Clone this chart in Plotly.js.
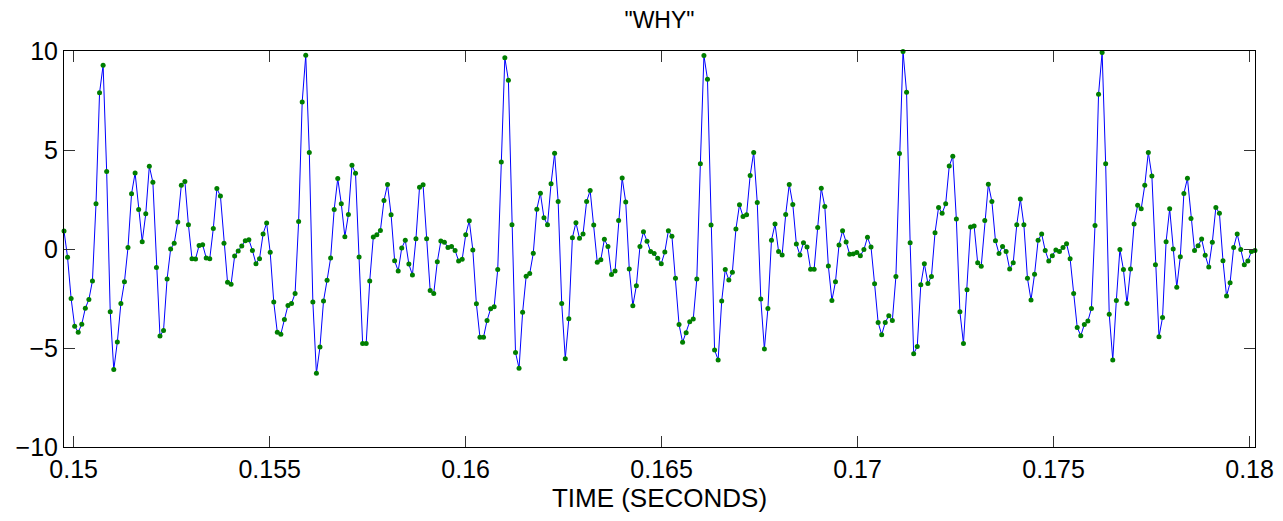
<!DOCTYPE html>
<html>
<head>
<meta charset="utf-8">
<script src="https://cdn.plot.ly/plotly-3.0.1.min.js"></script>
<style>html,body{margin:0;padding:0;background:#fff;}#chart{width:1283px;height:521px;}</style>
</head>
<body>
<div id="chart"></div>
<script>
// Sampled speech waveform of the word "WHY" (11025 Hz)
var startTime = 0.149753;
var sampleRate = 11025;
var signal = [
  0.91, -0.42, -2.50, -3.90, -4.20, -3.80, -2.99, -2.55, -1.61, 2.28, 7.89, 9.28, 3.91, -3.17, -6.09, -4.70, -2.75, -1.66, 0.07, 2.79, 3.84, 2.00, 0.37, 1.78, 4.18, 3.37, -0.94, -4.40, -4.11,
  -1.51, 0.00, 0.29, 1.36, 3.22, 3.41, 1.22, -0.49, -0.50, 0.18, 0.22, -0.45, -0.49, 1.04, 3.05, 2.68, 0.29, -1.68, -1.78, -0.35, -0.10, 0.15, 0.42, 0.47, -0.07, -0.74, -0.49, 0.76,
  1.31, -0.17, -2.68, -4.21, -4.30, -3.56, -2.85, -2.75, -2.25, 1.39, 7.43, 9.78, 4.88, -2.68, -6.28, -4.95, -2.62, -1.58, -0.45, 2.00, 3.56, 2.28, 0.62, 1.74, 4.23, 3.83, -0.40, -4.77,
  -4.77, -1.61, 0.60, 0.72, 0.94, 2.45, 3.26, 1.73, -0.59, -1.11, 0.05, 0.44, -0.76, -1.31, 0.52, 3.12, 3.24, 0.52, -2.10, -2.25, -0.65, 0.40, 0.34, 0.08, 0.13, -0.07, -0.60, -0.52,
  0.72, 1.43, -0.05, -2.77, -4.46, -4.46, -3.61, -3.02, -2.92, -1.04, 4.40, 9.66, 8.52, 1.22, -5.23, -6.02, -3.20, -1.38, -1.24, -0.22, 2.01, 2.82, 1.58, 1.22, 3.29, 4.83, 2.40, -2.75, -5.54,
  -3.52, 0.57, 1.33, 0.54, 0.76, 2.40, 2.95, 1.21, -0.67, -0.54, 0.49, 0.13, -1.29, -1.11, 1.44, 3.59, 2.37, -1.01, -2.87, -1.85, 0.12, 0.87, 0.39, -0.13, -0.23, -0.47, -0.74, -0.15,
  0.92, 0.64, -1.48, -3.81, -4.71, -4.23, -3.67, -3.54, -1.51, 4.30, 9.77, 8.57, 1.21, -5.10, -5.60, -2.62, -1.04, -1.56, -1.17, 1.01, 2.23, 1.64, 1.73, 3.71, 4.88, 2.35, -2.53, -5.05,
  -3.00, 0.44, 1.26, -0.13, -0.30, 1.74, 3.26, 2.25, 0.25, -0.30, 0.32, 0.10, -1.02, -1.02, 1.09, 3.07, 2.15, -0.86, -2.60, -1.66, 0.20, 0.92, 0.35, -0.27, -0.25, -0.18, -0.34, -0.03,
  0.59, 0.10, -1.76, -3.71, -4.33, -3.71, -3.37, -3.61, -1.39, 4.82, 9.98, 7.92, 0.32, -5.29, -4.93, -1.81, -0.74, -1.74, -1.39, 0.82, 2.10, 1.80, 2.28, 4.19, 4.68, 1.51, -3.17, -4.77,
  -2.06, 1.11, 1.16, -0.70, -0.87, 1.44, 3.27, 2.40, 0.42, -0.23, 0.13, -0.13, -1.01, -0.70, 1.22, 2.53, 1.22, -1.48, -2.57, -1.28, 0.44, 0.76, -0.08, -0.60, -0.34, -0.05, -0.12, 0.07,
  0.27, -0.49, -2.25, -3.96, -4.38, -3.81, -3.64, -3.00, 1.19, 7.82, 9.93, 4.30, -3.29, -5.60, -2.60, -0.02, -1.04, -2.75, -1.01, 1.26, 2.21, 2.03, 3.22, 4.88, 3.69, -0.79, -4.43, -3.46,
  0.37, 2.03, 0.00, -1.93, -0.39, 2.80, 3.57, 1.54, -0.07, 0.17, 0.50, -0.32, -0.91, 0.34, 2.10, 1.81, -0.59, -2.38, -1.71, 0.08, 0.76, -0.02, -0.79, -0.60, -0.12, -0.08
];
var xTickVals = [0.15, 0.155, 0.16, 0.165, 0.17, 0.175, 0.18];
var xTickText = ['0.15', '0.155', '0.16', '0.165', '0.17', '0.175', '0.18'];
var yTickVals = [-10, -5, 0, 5, 10];
var yTickText = ['\u221210', '\u22125', '0', '5', '10'];
var xRange = [0.149753, 0.180139];
var yRange = [-10, 10];

var FONT = 'Liberation Sans, Arial, Helvetica, sans-serif';
var FS = 25;

var trace = {
  type: 'scatter',
  mode: 'lines+markers',
  y: signal,
  x0: startTime,
  dx: 1 / sampleRate,
  line: {color: '#0000ff', width: 1},
  marker: {color: '#007f00', size: 5, line: {width: 0}},
  cliponaxis: false,
  hoverinfo: 'x+y'
};

var axisCommon = {
  showgrid: false,
  zeroline: false,
  showline: true,
  linecolor: '#000',
  linewidth: 1,
  mirror: 'ticks',
  ticks: 'inside',
  ticklen: 11,
  tickwidth: 1,
  tickcolor: '#333',
  tickfont: {family: FONT, size: FS, color: '#000'},
  tickmode: 'array'
};

var layout = {
  width: 1283,
  height: 521,
  margin: {l: 64, r: 28, t: 51, b: 74},
  paper_bgcolor: '#fff',
  plot_bgcolor: '#fff',
  showlegend: false,
  title: {text: '"WHY"', font: {family: FONT, size: 23, color: '#000'}, xref: 'paper', x: 0.5, xanchor: 'center', yref: 'container', y: 0.962, yanchor: 'middle'},
  xaxis: Object.assign({}, axisCommon, {
    range: xRange,
    tickvals: xTickVals,
    ticktext: xTickText,
    title: {text: 'TIME (SECONDS)', font: {family: FONT, size: 26, color: '#000'}, standoff: 2}
  }),
  yaxis: Object.assign({}, axisCommon, {
    range: yRange,
    tickvals: yTickVals,
    ticktext: yTickText
  })
};

Plotly.newPlot('chart', [trace], layout, {displayModeBar: false, staticPlot: true});
</script>
</body>
</html>
